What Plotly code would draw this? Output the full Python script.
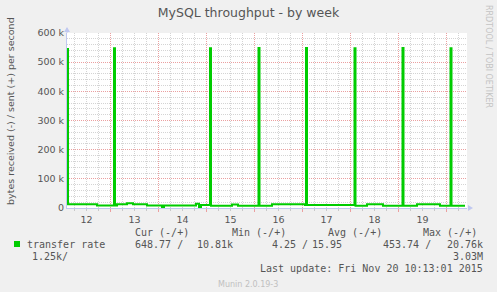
import plotly.graph_objects as go

# ---------------- data ----------------
# 30-min samples of "sent (+)" bytes/s, step breakpoints
times = [
    "2015-11-12 02:15", "2015-11-12 02:45", "2015-11-12 17:15",
    "2015-11-13 01:45", "2015-11-13 02:15", "2015-11-13 03:15", "2015-11-13 08:15",
    "2015-11-13 11:15", "2015-11-13 18:15",
    "2015-11-14 01:45", "2015-11-14 02:45", "2015-11-14 18:45", "2015-11-14 20:15",
    "2015-11-14 21:15",
    "2015-11-15 01:45", "2015-11-15 02:15", "2015-11-15 12:45", "2015-11-15 15:45",
    "2015-11-16 02:00", "2015-11-16 02:30", "2015-11-16 08:45",
    "2015-11-17 01:15", "2015-11-17 01:45", "2015-11-17 02:15",
    "2015-11-18 02:00", "2015-11-18 02:30", "2015-11-18 08:15", "2015-11-18 16:15",
    "2015-11-19 02:00", "2015-11-19 02:30", "2015-11-19 09:15", "2015-11-19 20:45",
    "2015-11-20 02:00", "2015-11-20 02:30", "2015-11-20 09:15",
]
sent = [
    545000, 13000, 9000,
    548000, 9000, 13000, 16000,
    13000, 9000,
    2000, 9000, 15000, 3000,
    10000,
    548000, 8000, 12000, 8000,
    549000, 8000, 12700,
    10000, 549000, 10000,
    548000, 8000, 12700, 8000,
    549000, 8000, 12700, 8000,
    548000, 8000, 8000,
]

x_range = ["2015-11-12 02:15", "2015-11-20 10:15"]
y_tickvals = [0, 100000, 200000, 300000, 400000, 500000, 600000]
y_ticktext = ["0", "100 k", "200 k", "300 k", "400 k", "500 k", "600 k"]

title_text = "MySQL throughput - by week"
ylabel_text = "bytes received (-) / sent (+) per second"
series_name = "transfer rate"
col_headers = ["Cur (-/+)", "Min (-/+)", "Avg (-/+)", "Max (-/+)"]
row_values = ["648.77 /", "10.81k", "4.25 /", "15.95", "453.74 /", "20.76k"]
row3_left = "1.25k/"
row3_right = "3.03M"
last_update = "Last update: Fri Nov 20 10:13:01 2015"
munin_ver = "Munin 2.0.19-3"
rrd_credit = "RRDTOOL / TOBI OETIKER"

# ---------------- layout helpers ----------------
W, H = 497, 292
L, R, T, B = 67, 30, 33, 84
PW, PH = W - L - R, H - T - B
BOT = H - B

def px(x):
    return (x - L) / PW

def py(y):
    return (BOT - y) / PH

GREEN = "#00cc00"
TXT = "#555555"
AXC = "#c0c8f0"
MONO = "DejaVu Sans Mono"
SANS = "DejaVu Sans"

fig = go.Figure()
fig.add_trace(go.Scatter(
    x=times, y=sent, mode="lines", line=dict(color=GREEN, width=2, shape="hv"),
    showlegend=False, hoverinfo="skip",
))

fig.update_layout(
    width=W, height=H,
    margin=dict(l=L, r=R, t=T, b=B),
    paper_bgcolor="#f0f0f0", plot_bgcolor="#ffffff",
    title=dict(text=title_text, x=0.5, xref="container", xanchor="center",
               y=1 - 13 / H, yref="container", yanchor="middle",
               font=dict(family=SANS, size=12.5, color=TXT)),
    xaxis=dict(
        type="date", range=x_range, dtick=86400000, tick0="2015-11-12",
        ticklabelmode="period", tickformat="%d",
        showgrid=True, gridcolor="#eba0a0", griddash="1px,1px", gridwidth=1,
        ticks="outside", ticklen=3, tickcolor="#eba0a0",
        showline=True, linecolor=AXC, linewidth=1,
        tickfont=dict(family=SANS, size=9.5, color=TXT),
        minor=dict(dtick=6 * 3600000, showgrid=True, gridcolor="#d4d4d4",
                   griddash="1px,1px", ticks="outside", ticklen=2, tickcolor="#c8c8c8"),
        zeroline=False, fixedrange=True,
    ),
    yaxis=dict(
        range=[0, 600000], tickvals=y_tickvals, ticktext=y_ticktext,
        showgrid=True, gridcolor="#eba0a0", griddash="1px,1px", gridwidth=1,
        showline=True, linecolor=AXC, linewidth=1, ticks="",
        tickfont=dict(family=SANS, size=9.5, color=TXT),
        minor=dict(dtick=20000, showgrid=True, gridcolor="#d4d4d4", griddash="1px,1px"),
        zeroline=False, fixedrange=True,
    ),
)

shapes = []
# axis arrows
shapes.append(dict(type="line", xref="paper", yref="paper",
                   x0=px(L), x1=px(L), y0=py(T), y1=py(T - 5),
                   line=dict(color=AXC, width=1)))
shapes.append(dict(type="path", xref="paper", yref="paper",
                   path=f"M {px(L-3)},{py(T-1)} L {px(L)},{py(T-6)} L {px(L+3)},{py(T-1)} Z",
                   fillcolor=AXC, line=dict(color=AXC, width=0)))
shapes.append(dict(type="path", xref="paper", yref="paper",
                   path=f"M {px(W-R+1)},{py(BOT-3)} L {px(W-R+6)},{py(BOT)} L {px(W-R+1)},{py(BOT+3)} Z",
                   fillcolor=AXC, line=dict(color=AXC, width=0)))
# legend colour box
shapes.append(dict(type="rect", xref="paper", yref="paper",
                   x0=px(14), x1=px(20), y0=py(247), y1=py(241),
                   fillcolor=GREEN, line=dict(width=0)))
fig.update_layout(shapes=shapes)

ann = []
def text(s, x, y, anchor="left", font=MONO, size=10, color=TXT, angle=0):
    ann.append(dict(text=s, x=px(x), y=py(y), xref="paper", yref="paper",
                    xanchor=anchor, yanchor="middle", showarrow=False,
                    textangle=angle, borderpad=0,
                    font=dict(family=font, size=size, color=color)))

text(ylabel_text, 10, 111, anchor="center", font=SANS, size=9.5, angle=-90)
text(rrd_credit, 489, 56, anchor="center", font=SANS, size=8, color="#c4c4c4", angle=90)

hx = [134, 231, 327, 422]
for s, x in zip(col_headers, hx):
    text(s, x, 232)
text(series_name, 26, 244)
vx = [134, 196, 271, 311, 382, 446]
for s, x in zip(row_values, vx):
    text(s, x, 244)
text(row3_left, 31, 256)
text(row3_right, 484, 256, anchor="right")
text(last_update, 484, 268, anchor="right")
text(munin_ver, 248, 284, anchor="center", font=SANS, size=8, color="#c0c0c0")
fig.update_layout(annotations=ann)

fig.write_html("out.html")
